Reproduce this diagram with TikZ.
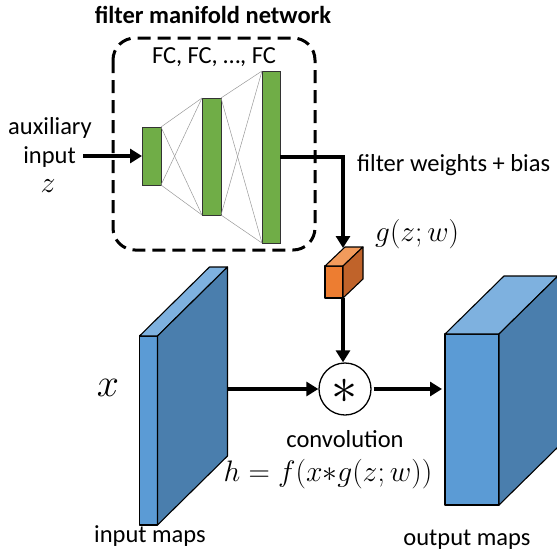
\documentclass[tikz,border=0pt]{standalone}
\usepackage{fontspec}
\setmainfont{Carlito}
\usetikzlibrary{arrows.meta,calc}
\definecolor{gfill}{HTML}{70AD47}
\definecolor{bfront}{HTML}{5B9BD5}
\definecolor{btop}{HTML}{7EB1DF}
\definecolor{bside}{HTML}{4A7EAD}
\definecolor{ofront}{HTML}{ED7D31}
\definecolor{otop}{HTML}{F29B5C}
\definecolor{oside}{HTML}{C0632A}
\tikzset{
  greenbar/.style={draw=black!80, line width=1pt, fill=gfill, inner sep=0pt, outer sep=0pt},
  face/.style={draw=black, line width=1.1pt, line join=round},
  frontbox/.style={face, inner sep=0pt, outer sep=0pt},
  arr/.style={line width=3.4pt, -{Triangle[length=12pt,width=14pt]}},
  thinl/.style={draw=gray!80, line width=0.5pt},
  txt/.style={font=\fontsize{24.5}{28}\selectfont, inner sep=0pt},
  mtxt/.style={font=\fontsize{24.88}{28}\selectfont, inner sep=0pt}
}
\begin{document}
\begin{tikzpicture}[x=1pt,y=-1pt]
\useasboundingbox (0,0) rectangle (557,552);
% title and dashed box
\node[txt, font=\bfseries\fontsize{24.5}{28}\selectfont] (title) at (213,15) {filter manifold network};
\draw[line width=3pt, dash pattern=on 13pt off 7pt, rounded corners=22pt] (113,38) rectangle (315,250);
\node[txt] (fc) at (214,57) {FC, FC, \dots, FC};
% layers
\node[greenbar, minimum width=19, minimum height=58] (l1) at (151.5,156) {};
\node[greenbar, minimum width=19, minimum height=117] (l2) at (211.5,156.5) {};
\node[greenbar, minimum width=18, minimum height=172] (l3) at (271,157) {};
\foreach \a in {north east,south east}{
  \foreach \b in {north west,south west}{
    \draw[thinl] (l1.\a) -- (l2.\b);
    \draw[thinl] (l2.\a) -- (l3.\b);
  }}
% auxiliary input
\node[txt] (aux) at (50,128) {auxiliary};
\node[txt, anchor=east] (inp) at (76,157) {input};
\node[mtxt] (zvar) at (48,186) {\scalebox{1.2}{$z$}};
\draw[arr] (l1.west -| inp.east) ++(7,0) -- (l1.west);
% output of filter network
\coordinate (ctop) at (343,248);
\draw[arr] (l3.east) -| (ctop);
\node[txt, anchor=west] (fwb) at (357,165) {filter weights + bias};
\node[mtxt, anchor=west] (gzw) at (375,234) {\scalebox{1.18}{$g(z;w)$}};
% orange cube
\node[frontbox, fill=ofront, minimum width=18, minimum height=32] (cube) at (334,282) {};
\draw[face, fill=otop] (cube.north west) -- ++(20,-19) -- ++(18,0) -- (cube.north east) -- cycle;
\draw[face, fill=oside] (cube.north east) -- ++(20,-19) -- ++(0,32) -- (cube.south east) -- cycle;
% convolution
\node[circle, draw, line width=1.3pt, minimum size=52, inner sep=0pt] (conv) at (345,389) {};
\node[mtxt] (star) at (345,391) {\scalebox{2.1}{$\ast$}};
\draw[arr] (cube.south east) -- (cube.south east |- conv.north);
\node[txt, anchor=base] (convl) at (345,447) {convolution};
\node[mtxt, anchor=base] (heq) at (328,481) {\scalebox{1.19}{$h=f(x{\ast}g(z;w))$}};
% input maps
\node[frontbox, fill=bfront, minimum width=18, minimum height=189] (inmap) at (148.5,430.5) {};
\draw[face, fill=btop] (inmap.north west) -- ++(70,-69) -- ++(18,0) -- (inmap.north east) -- cycle;
\draw[face, fill=bside] (inmap.north east) -- ++(70,-69) -- ++(0,189) -- (inmap.south east) -- cycle;
\node[mtxt] (xvar) at (108,388) {\scalebox{1.6}{$x$}};
\node[txt] (inl) at (150,536) {input maps};
\coordinate (inback) at (228,389);
\draw[arr] (inback) -- (conv.west);
% output maps
\node[frontbox, fill=bfront, minimum width=54, minimum height=171] (outmap) at (472,419.5) {};
\draw[face, fill=btop] (outmap.north west) -- ++(59,-58) -- ++(54,0) -- (outmap.north east) -- cycle;
\draw[face, fill=bside] (outmap.north east) -- ++(59,-58) -- ++(0,171) -- (outmap.south east) -- cycle;
\node[txt] (outl) at (467,540) {output maps};
\draw[arr] (conv.east) ++(2,0) -- ($(outmap.west |- conv.east)+(-3,0)$);
\end{tikzpicture}
\end{document}
